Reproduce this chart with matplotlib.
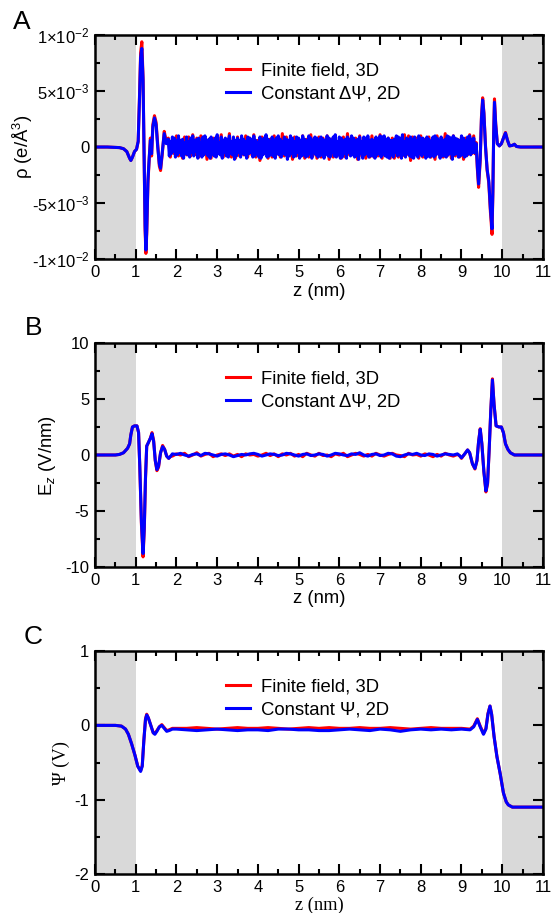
import numpy as np
import matplotlib
matplotlib.use("Agg")
import matplotlib.pyplot as plt
from matplotlib.ticker import MultipleLocator, FixedLocator, FixedFormatter

plt.rcParams["font.family"] = ["Liberation Sans", "DejaVu Sans"]
plt.rcParams["mathtext.fontset"] = "custom"
plt.rcParams["mathtext.rm"] = "Liberation Sans"
plt.rcParams["mathtext.it"] = "Liberation Sans:italic"
plt.rcParams["axes.unicode_minus"] = False

# ---------------- Panel A: charge density (units of 1e-3 e/A^3) ----------------
rho_left_z = [0.0, 0.3, 0.6, 0.7, 0.78, 0.85, 0.88, 0.92, 0.97, 1.02, 1.06, 1.09, 1.12,
              1.15, 1.18, 1.21, 1.23, 1.25, 1.27, 1.30, 1.33, 1.36, 1.39, 1.42, 1.46,
              1.50, 1.54, 1.58, 1.61, 1.65, 1.70, 1.75]
rho_left_c = [0, 0, -0.05, -0.15, -0.4, -1.0, -1.2, -0.9, -0.4, -0.2, 0.5, 4.0, 8.0,
              8.8, 6.0, -2.0, -7.0, -9.2, -7.5, -3.0, -1.0, 0.6, -0.6, 1.8, 2.6,
              2.0, 0.0, -1.5, -1.9, -0.5, 1.2, 0.3]
rho_left_f = [0, 0, -0.05, -0.15, -0.4, -1.0, -1.2, -0.9, -0.4, -0.2, 0.5, 4.2, 8.4,
              9.4, 6.2, -2.2, -7.4, -9.5, -7.8, -3.2, -1.2, 0.8, -0.8, 2.0, 2.8,
              2.2, 0.2, -1.7, -2.1, -0.7, 1.4, 0.5]

# bulk region, blue sampled every 0.025 nm, red every 0.05 nm
rho_mid_z_c = np.round(np.arange(1.800, 9.2751, 0.025), 3)
rho_mid_c = [0.7, -0.8, 0.5, -0.6, 0.9, -0.4, 0.8, -0.9, 0.6, -0.7,
             1.0, -0.5, 0.6, -0.8, 0.7, -1.0, 0.4, -0.6, 0.9, -0.7,
             0.5, -0.9, 0.8, -0.5, 1.0, -0.8, 0.6, -0.4, 0.7, -1.0,
             0.8, -0.6, 0.4, -0.9, 0.9, -0.7, 1.0, -0.5, 0.6, -0.8,
             0.7, -1.0, 0.9, -0.6, 0.5, -0.8, 0.8, -0.9, 1.1, -0.6,
             0.4, -0.7, 0.9, -1.0, 0.6, -0.5, 0.8, -0.8, 0.7, -0.9,
             1.0, -0.6, 0.5, -0.7, 0.9, -1.1, 0.6, -0.8, 0.8, -0.5,
             0.6, -0.9, 1.0, -0.6, 0.7, -0.7, 0.5, -1.0, 0.9, -0.6,
             0.8, -0.5, 0.7, -0.9, 1.0, -0.8, 0.6, -0.6, 0.4, -0.9,
             0.9, -1.0, 0.6, -0.7, 0.8, -0.5, 1.1, -0.9, 0.7, -0.8,
             0.5, -0.7, 0.9, -0.8, 0.6, -1.0, 0.8, -0.6, 1.0, -0.7,
             0.7, -0.9, 0.5, -0.6, 0.9, -0.7, 0.7, -1.1, 0.6, -0.8,
             1.0, -0.6, 0.8, -0.9, 0.5, -0.8, 0.9, -0.5, 0.8, -1.0,
             0.6, -0.8, 1.0, -0.7, 0.7, -0.9, 0.6, -0.8, 1.0, -0.6,
             0.8, -1.0, 0.6, -0.5, 0.9, -0.7, 0.8, -0.9, 0.5, -0.8,
             0.9, -0.7, 0.7, -1.0, 0.6, -0.6, 1.0, -0.8, 0.8, -0.9,
             0.6, -0.5, 0.9, -0.8, 1.1, -0.9, 0.5, -0.7, 0.9, -1.0,
             0.8, -0.9, 0.6, -0.6, 0.7, -1.0, 0.9, -0.5, 0.7, -0.8,
             1.0, -0.7, 0.8, -0.9, 0.6, -0.8, 0.7, -1.1, 0.9, -0.6,
             0.5, -1.0, 0.9, -0.7, 0.8, -0.6, 1.0, -0.9, 0.6, -0.8,
             0.7, -0.8, 0.6, -1.0, 0.9, -0.7, 0.5, -0.6, 1.0, -0.9,
             0.9, -0.6, 1.0, -0.8, 0.7, -0.9, 0.8, -1.0, 0.6, -0.7,
             0.6, -0.9, 0.7, -0.5, 1.0, -0.8, 0.9, -0.7, 0.8, -1.0,
             1.1, -0.7, 0.5, -0.9, 0.8, -0.6, 0.7, -0.8, 0.9, -0.9,
             0.7, -1.0, 0.9, -0.7, 0.6, -0.9, 1.0, -0.6, 0.8, -0.8,
             0.8, -0.6, 0.6, -1.0, 0.9, -0.8, 0.7, -0.9, 0.5, -0.7,
             0.9, -0.9, 1.0, -0.7, 0.8, -0.5, 0.6, -1.0, 0.9, -0.8,
             0.6, -0.8, 0.7, -0.9, 1.0, -0.7, 0.9, -0.6, 0.8, -1.1,
             1.0, -0.7, 0.8, -0.6, 0.7, -0.9, 0.6, -0.8, 1.0, -0.7,
             0.8, -0.9, 0.6, -0.8, 0.9, -0.6, 1.0, -0.7, 0.7, -0.5]
rho_mid_z_f = np.round(np.arange(1.80, 9.26, 0.05), 2)
rho_mid_f = [0.8, -0.9, 0.7, -0.6, 1.0, -0.8, 0.6, -1.0, 0.9, -0.7,
             0.9, -0.8, 1.1, -0.7, 0.8, -0.9, 1.0, -0.6, 0.7, -1.1,
             0.7, -1.0, 0.8, -0.8, 0.9, -0.6, 1.1, -0.9, 0.6, -0.8,
             1.2, -0.9, 0.6, -1.0, 0.9, -0.8, 0.7, -0.7, 1.0, -0.9,
             0.8, -0.7, 1.1, -0.9, 0.6, -1.2, 0.9, -0.6, 0.8, -1.0,
             0.7, -0.9, 1.0, -0.7, 0.8, -0.9, 1.2, -0.8, 0.9, -0.7,
             0.8, -1.1, 0.9, -0.8, 0.7, -0.6, 1.0, -1.0, 0.7, -0.9,
             1.1, -0.8, 0.7, -1.0, 0.9, -0.9, 0.8, -0.7, 1.0, -1.1,
             0.7, -0.9, 1.0, -0.8, 0.6, -1.0, 0.9, -0.9, 1.2, -0.7,
             0.9, -0.7, 0.8, -1.1, 1.0, -0.8, 0.7, -1.0, 0.8, -0.9,
             1.0, -0.9, 0.7, -0.8, 1.1, -1.0, 0.9, -0.7, 0.8, -1.0,
             0.8, -1.0, 0.9, -0.9, 0.7, -0.8, 1.1, -0.7, 1.0, -1.2,
             0.9, -0.7, 0.8, -1.0, 1.0, -0.9, 0.7, -0.8, 0.9, -0.9,
             0.7, -1.1, 1.0, -0.7, 0.8, -0.9, 1.2, -0.8, 0.7, -1.0,
             1.0, -0.8, 0.7, -0.9, 0.9, -1.1, 0.8, -0.7, 1.1, -0.6]

rho_right_z = [9.30, 9.33, 9.36, 9.39, 9.42, 9.46, 9.49, 9.52, 9.55, 9.59, 9.63, 9.67,
               9.71, 9.75, 9.77, 9.79, 9.81, 9.84, 9.88, 9.93, 9.98, 10.03, 10.08,
               10.13, 10.18, 10.25, 10.30, 10.35, 10.45, 11.0]
rho_right_c = [0.8, -0.5, 0.3, -1.8, -3.3, -1.0, 2.5, 4.2, 3.0, 0.0, -2.0, -3.0,
               -5.5, -7.3, -4.0, 1.0, 4.0, 2.0, 0.3, 0.1, 0.3, 0.8, 1.25,
               0.6, 0.1, 0.15, 0.25, 0.05, 0.0, 0.0]
rho_right_f = [1.0, -0.6, 0.4, -2.0, -3.6, -1.2, 2.7, 4.4, 3.1, 0.1, -2.1, -3.2,
               -5.8, -7.8, -4.2, 1.2, 4.3, 2.1, 0.3, 0.1, 0.3, 0.8, 1.3,
               0.6, 0.1, 0.15, 0.25, 0.05, 0.0, 0.0]

# ---------------- Panel B: electric field (V/nm) ----------------
ez_left_z = [0.0, 0.5, 0.6, 0.7, 0.8, 0.85, 0.88, 0.92, 0.97, 1.03, 1.07, 1.10, 1.14,
             1.18, 1.21, 1.24, 1.27, 1.31, 1.36, 1.40, 1.44, 1.48, 1.52, 1.56, 1.61,
             1.66, 1.71, 1.76, 1.81, 1.86]
ez_left_c = [0, 0, 0.05, 0.2, 0.6, 1.0, 1.8, 2.5, 2.6, 2.6, 2.0, -1.0, -6.0,
             -8.8, -6.5, -2.0, 0.8, 1.1, 1.5, 1.9, 1.2, -0.5, -1.3, -1.0, 0.2,
             0.75, 0.5, -0.1, -0.3, -0.1]
ez_left_f = [0, 0, 0.05, 0.2, 0.6, 1.0, 1.8, 2.5, 2.6, 2.6, 2.0, -1.1, -6.2,
             -9.1, -6.7, -2.1, 0.8, 1.1, 1.5, 2.0, 1.3, -0.5, -1.4, -1.1, 0.2,
             0.85, 0.5, -0.1, -0.3, -0.1]

ez_mid_z = np.round(np.arange(1.9, 8.95, 0.1), 2)
ez_mid_c = [0.1, 0.05, 0.15, 0.0, -0.1, 0.05, 0.1, -0.05, 0.15, 0.1,
            0.0, -0.1, 0.05, 0.1, 0.0, -0.15, -0.05, 0.05, 0.0, 0.1,
            0.15, 0.05, -0.1, 0.0, 0.1, 0.05, -0.05, 0.0, 0.15, 0.1,
            0.0, -0.1, 0.05, 0.1, -0.05, 0.0, 0.1, 0.05, -0.1, 0.0,
            0.15, 0.1, 0.0, -0.05, 0.1, 0.05, 0.2, 0.0, -0.1, 0.05,
            0.1, -0.05, 0.0, 0.15, 0.1, -0.1, -0.15, 0.0, 0.1, 0.05,
            0.15, 0.0, -0.05, 0.1, 0.05, -0.1, 0.0, 0.1, 0.05, 0.0,
            0.1]
ez_mid_f = [-0.1, 0.1, 0.0, 0.15, -0.15, 0.0, 0.2, -0.1, 0.05, 0.15,
            -0.15, 0.0, 0.1, -0.05, 0.1, -0.1, 0.05, -0.15, 0.1, 0.0,
            0.05, -0.1, 0.0, 0.15, -0.05, 0.1, -0.15, 0.1, 0.0, 0.15,
            -0.1, 0.05, -0.15, 0.15, 0.0, -0.1, 0.15, -0.05, 0.0, -0.15,
            0.1, 0.0, 0.15, -0.15, 0.0, 0.15, 0.05, -0.1, 0.05, -0.1,
            0.15, 0.0, -0.1, 0.05, 0.15, 0.0, -0.05, -0.15, 0.15, 0.0,
            0.05, -0.1, 0.1, 0.0, -0.15, 0.05, -0.1, 0.15, 0.0, -0.1,
            0.05]

ez_right_z = [8.95, 9.0, 9.08, 9.15, 9.2, 9.27, 9.33, 9.38, 9.42, 9.46, 9.50, 9.55,
              9.60, 9.64, 9.68, 9.72, 9.76, 9.80, 9.85, 9.92, 9.98, 10.03, 10.08,
              10.14, 10.2, 10.3, 11.0]
ez_right_c = [-0.05, -0.25, 0.1, 0.45, 0.2, -0.8, -1.2, -0.5, 1.2, 2.3, 1.0, -1.5,
              -3.2, -2.5, 0.5, 4.0, 6.7, 4.5, 2.6, 2.5, 2.5, 2.0, 1.0,
              0.5, 0.2, 0.0, 0.0]
ez_right_f = [-0.05, -0.3, 0.1, 0.45, 0.2, -0.8, -1.25, -0.5, 1.2, 2.35, 1.0, -1.5,
              -3.3, -2.6, 0.5, 4.0, 6.8, 4.5, 2.6, 2.5, 2.5, 2.0, 1.0,
              0.5, 0.2, 0.0, 0.0]

# ---------------- Panel C: potential (V) ----------------
psi_left_z = [0.0, 0.5, 0.65, 0.75, 0.82, 0.9, 0.98, 1.05, 1.12, 1.16, 1.2, 1.24, 1.27,
              1.31, 1.37, 1.43, 1.47, 1.52, 1.58, 1.64, 1.70, 1.76, 1.82, 1.9]
psi_left_c = [0, 0, -0.01, -0.05, -0.12, -0.25, -0.4, -0.55, -0.62, -0.55, -0.2, 0.08, 0.14,
              0.1, 0.0, -0.1, -0.12, -0.08, -0.02, 0.0, -0.04, -0.08, -0.07, -0.05]
psi_left_f = [0, 0, -0.01, -0.05, -0.12, -0.25, -0.4, -0.55, -0.61, -0.54, -0.2, 0.09, 0.15,
              0.1, 0.0, -0.1, -0.11, -0.07, -0.02, 0.01, -0.03, -0.07, -0.06, -0.04]

psi_mid_z = np.round(np.arange(2.0, 9.01, 0.25), 2)
psi_mid_c = [-0.05, -0.06, -0.07, -0.06, -0.05, -0.06, -0.07, -0.06, -0.06, -0.07,
             -0.05, -0.05, -0.06, -0.06, -0.07, -0.07, -0.06, -0.05, -0.06, -0.07,
             -0.05, -0.06, -0.08, -0.06, -0.05, -0.06, -0.05, -0.06, -0.05]
psi_mid_f = [-0.04, -0.04, -0.03, -0.04, -0.05, -0.04, -0.03, -0.04, -0.04, -0.03,
             -0.04, -0.05, -0.04, -0.03, -0.04, -0.03, -0.04, -0.04, -0.03, -0.04,
             -0.04, -0.03, -0.04, -0.05, -0.04, -0.03, -0.04, -0.04, -0.04]

psi_right_z = [9.21, 9.3, 9.39, 9.46, 9.54, 9.6, 9.65, 9.7, 9.74, 9.8, 9.87, 9.95,
               10.03, 10.1, 10.15, 10.25, 11.0]
psi_right_c = [-0.06, -0.02, 0.08, -0.02, -0.12, -0.05, 0.15, 0.26, 0.15, -0.15, -0.42, -0.65,
               -0.91, -1.03, -1.07, -1.1, -1.1]
psi_right_f = [-0.05, -0.01, 0.09, -0.01, -0.11, -0.04, 0.16, 0.26, 0.15, -0.15, -0.42, -0.65,
               -0.91, -1.03, -1.07, -1.1, -1.1]

labels_a = ["Finite field, 3D", "Constant ΔΨ, 2D"]
labels_c = ["Finite field, 3D", "Constant Ψ, 2D"]

rho_ticks = [-1e-2, -5e-3, 0, 5e-3, 1e-2]
rho_ticklabels = [r"-1$\times$10$^{-2}$", r"-5$\times$10$^{-3}$", "0",
                  r"5$\times$10$^{-3}$", r"1$\times$10$^{-2}$"]


def join(*parts):
    return np.concatenate([np.asarray(p, dtype=float) for p in parts])


def style(ax, ymin, ymax, ymajor, yminor):
    ax.axvspan(0, 1, color="#d9d9d9", lw=0, zorder=0)
    ax.axvspan(10, 11, color="#d9d9d9", lw=0, zorder=0)
    ax.set_xlim(0, 11)
    ax.set_ylim(ymin, ymax)
    ax.xaxis.set_major_locator(MultipleLocator(1))
    ax.xaxis.set_minor_locator(MultipleLocator(0.5))
    ax.yaxis.set_major_locator(MultipleLocator(ymajor))
    ax.yaxis.set_minor_locator(MultipleLocator(yminor))
    ax.tick_params(which="both", direction="in", top=True, right=True, width=1.5,
                   labelsize=12, pad=4)
    ax.tick_params(which="major", length=7)
    ax.tick_params(which="minor", length=3.5)
    for s in ax.spines.values():
        s.set_linewidth(1.8)


fig = plt.figure(figsize=(5.53, 9.13), dpi=100)
ax_a = fig.add_axes([0.1718, 0.7163, 0.810, 0.2453])
ax_b = fig.add_axes([0.1718, 0.3790, 0.810, 0.2453])
ax_c = fig.add_axes([0.1718, 0.0427, 0.810, 0.2442])

lw = 2.2
fs = 13.3

# A
ax_a.plot(join(rho_left_z, rho_mid_z_f, rho_right_z),
          join(rho_left_f, rho_mid_f, rho_right_f) * 1e-3, color="red", lw=lw, label=labels_a[0])
ax_a.plot(join(rho_left_z, rho_mid_z_c, rho_right_z),
          join(rho_left_c, rho_mid_c, rho_right_c) * 1e-3, color="blue", lw=lw, label=labels_a[1])
style(ax_a, -1e-2, 1e-2, 5e-3, 2.5e-3)
ax_a.yaxis.set_major_locator(FixedLocator(rho_ticks))
ax_a.yaxis.set_major_formatter(FixedFormatter(rho_ticklabels))
ax_a.set_ylabel("ρ (e/Å$^3$)", fontsize=fs)
ax_a.set_xlabel("z (nm)", fontsize=fs)
ax_a.yaxis.set_label_coords(-0.134, 0.5)
ax_a.xaxis.set_label_coords(0.5, -0.105)

# B
z = join(ez_left_z, ez_mid_z, ez_right_z)
ax_b.plot(z, join(ez_left_f, ez_mid_f, ez_right_f), color="red", lw=lw, label=labels_a[0])
ax_b.plot(z, join(ez_left_c, ez_mid_c, ez_right_c), color="blue", lw=lw, label=labels_a[1])
style(ax_b, -10, 10, 5, 2.5)
ax_b.set_ylabel("E$_z$ (V/nm)", fontsize=fs)
ax_b.set_xlabel("z (nm)", fontsize=fs)
ax_b.yaxis.set_label_coords(-0.083, 0.5)
ax_b.xaxis.set_label_coords(0.5, -0.105)

# C
z = join(psi_left_z, psi_mid_z, psi_right_z)
ax_c.plot(z, join(psi_left_f, psi_mid_f, psi_right_f), color="red", lw=lw, label=labels_c[0])
ax_c.plot(z, join(psi_left_c, psi_mid_c, psi_right_c), color="blue", lw=lw, label=labels_c[1])
style(ax_c, -2, 1, 1, 0.5)
ax_c.set_ylabel("Ψ (V)", fontsize=fs, family="Liberation Serif")
ax_c.set_xlabel("z (nm)", fontsize=fs, family="Liberation Serif")
ax_c.yaxis.set_label_coords(-0.056, 0.5)
ax_c.xaxis.set_label_coords(0.5, -0.1)

for ax in (ax_a, ax_b, ax_c):
    ax.legend(loc="upper left", bbox_to_anchor=(0.276, 0.91), frameon=False,
              fontsize=fs, handlelength=1.3, handletextpad=0.6,
              labelspacing=0.3, borderaxespad=0)

fig.text(0.040, 0.976, "A", fontsize=19, ha="center", va="center")
fig.text(0.060, 0.641, "B", fontsize=19, ha="center", va="center")
fig.text(0.060, 0.302, "C", fontsize=19, ha="center", va="center")

fig.savefig("out.png", dpi=100)
